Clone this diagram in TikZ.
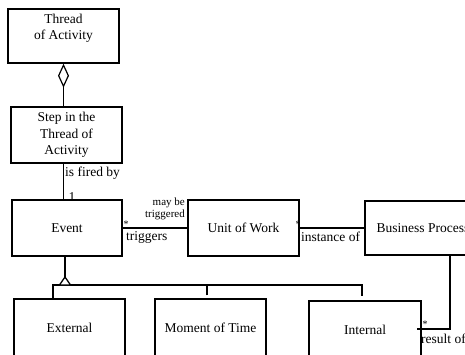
\documentclass[tikz,border=0pt]{standalone}
\usepackage{fontspec}
\setmainfont{Liberation Serif}
\usetikzlibrary{arrows.meta}
\begin{document}
\begin{tikzpicture}[x=1pt,y=-1pt,
  box/.style={draw,line width=1.4pt,inner sep=0pt,align=center,
    font=\fontsize{13.5}{16.3}\selectfont},
  boxtext/.style={inner sep=0pt,align=center,font=\fontsize{13.5}{16.5}\selectfont},
  link/.style={line width=1.3pt},
  lbl/.style={inner sep=0pt,font=\fontsize{13.5}{16}\selectfont},
  small/.style={inner sep=0pt,align=right,font=\fontsize{11}{12}\selectfont},
  mult/.style={inner sep=0pt,font=\fontsize{10}{10}\selectfont}]
\useasboundingbox (0,0) rectangle (465,354);
\clip (0,0) rectangle (465,354);

% classes
\node[box,minimum width=111,minimum height=54] (thread) at (63.5,36) {};
\node[boxtext] at (63.5,28.5) {Thread\\of Activity};
\node[box,minimum width=111,minimum height=56] (step) at (66.5,135) {Step in the\\Thread of\\Activity};
\node[box,minimum width=110,minimum height=56] (event) at (67,228) {Event};
\node[box,minimum width=111,minimum height=56] (unit) at (243.5,228) {Unit of Work};
\node[box,minimum width=116,minimum height=54] (bp) at (423,228) {Business Process};
\node[box,minimum width=111,minimum height=58] (ext) at (69.5,328) {External};
\node[box,minimum width=111,minimum height=58] (moment) at (210.5,328) {Moment of Time};
\node[box,minimum width=112,minimum height=58] (internal) at (365,330) {Internal};

% aggregation: thread of activity owns its steps
\draw[link,{Diamond[open,length=24pt,width=11pt,line width=1.2pt]}-]
  (thread.south) -- (thread.south |- step.north);

% step is fired by an event
\draw[link] ([xshift=-3.5pt]event.north) -- ([xshift=-3.5pt]event.north |- step.south);
\node[lbl,anchor=west] at (65,173) {is fired by};
\node[lbl] at (72,197) {1};

% generalisation of event
\coordinate (apex) at (65,277);
\coordinate (busL) at (52,285);
\coordinate (busR) at (362,285);
\draw[link] ([xshift=-2pt]event.south) -- (apex);
\draw[link] (busL) -- (busR) -- ++(0,11);
\draw[link,fill=white,line join=miter] (apex) -- ++(-5.5,8) -- ++(11,0) -- cycle;
\draw[link] ([xshift=-16.5pt]ext.north) -- ([xshift=-16.5pt]ext.north |- busL);
\draw[link] ([xshift=-3.5pt,yshift=3pt]moment.north) -- ([xshift=-3.5pt]moment.north |- busL);

% event / unit of work
\draw[link] (event.east) -- (unit.west);
\node[mult] at (126,224) {*};
\node[small,anchor=east] at (185,209) {may be\\triggered};
\node[lbl,anchor=west] at (126,237) {triggers};

% unit of work / business process
\draw[link] (unit.east) -- (bp.west);
\node[mult] at (298,224) {*};
\node[lbl,anchor=west] at (301,237) {instance of};

% business process / internal
\coordinate (corner) at (450,329);
\coordinate (rend) at (417,329);
\draw[link] (bp.south -| corner) -- (corner) -- (rend);
\node[mult] at (425,324) {*};
\node[lbl,anchor=west] at (421,339) {result of};
\end{tikzpicture}
\end{document}
